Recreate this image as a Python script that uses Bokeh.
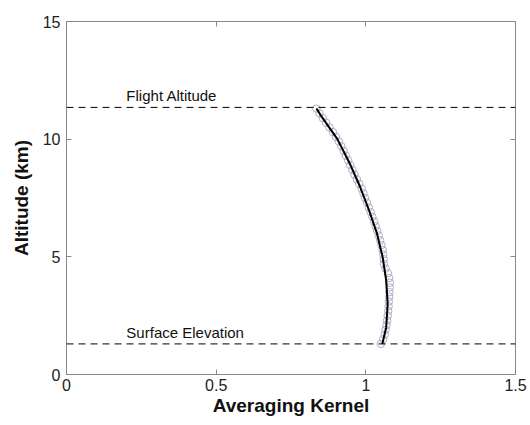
from bokeh.plotting import figure
from bokeh.models import Range1d, LinearAxis, FixedTicker, Span, Label
from bokeh.embed import file_html
from bokeh.resources import INLINE

# Smooth fit (line)
line_alt = [1.3, 2.0, 3.0, 4.0, 5.0, 6.0, 7.0, 8.0, 9.0, 10.0, 11.0, 11.3]
line_ak = [1.055, 1.068, 1.073, 1.068, 1.056, 1.037, 1.010, 0.980, 0.945, 0.905, 0.850, 0.835]

# Individual retrieval points (circles)
pt_alt = [1.3, 1.5, 1.7, 1.9, 2.1, 2.3, 2.5, 2.7, 2.9, 3.1, 3.3, 3.5, 3.7, 3.9, 4.1, 4.3,
          4.5, 4.7, 4.9, 5.1, 5.3, 5.5, 5.7, 5.9, 6.1, 6.3, 6.5, 6.7, 6.9, 7.1, 7.3, 7.5,
          7.7, 7.9, 8.1, 8.3, 8.5, 8.7, 8.9, 9.1, 9.3, 9.5, 9.7, 9.9, 10.1, 10.3, 10.5,
          10.7, 10.9, 11.1, 11.3]
pt_ak = [1.050, 1.058, 1.063, 1.066, 1.069, 1.071, 1.073, 1.075, 1.076, 1.077, 1.078, 1.079,
         1.080, 1.080, 1.078, 1.074, 1.066, 1.060, 1.060, 1.058, 1.056, 1.052, 1.048, 1.043,
         1.038, 1.033, 1.028, 1.022, 1.016, 1.010, 1.004, 0.997, 0.992, 0.986, 0.978, 0.970,
         0.962, 0.955, 0.948, 0.941, 0.933, 0.926, 0.918, 0.910, 0.900, 0.890, 0.879, 0.867,
         0.856, 0.845, 0.835]

flight_alt = 11.35
surface_alt = 1.3
x_ticks = [0, 0.5, 1, 1.5]
y_ticks = [0, 5, 10, 15]

FONT = "Liberation Sans"

p = figure(width=530, height=425, output_backend="svg", toolbar_location=None,
           x_range=Range1d(0, 1.5), y_range=Range1d(0, 15),
           min_border_left=66, min_border_right=15, min_border_top=21, min_border_bottom=51)
p.xgrid.visible = False
p.ygrid.visible = False
p.outline_line_color = "#888888"
p.outline_line_width = 1
p.background_fill_color = "white"
p.border_fill_color = "white"

for ax in (p.xaxis[0], p.yaxis[0]):
    ax.axis_line_color = "#888888"
    ax.major_tick_line_color = "#888888"
    ax.major_tick_in = 5
    ax.major_tick_out = 0
    ax.minor_tick_line_color = None
    ax.major_label_text_font = FONT
    ax.major_label_text_font_size = "16px"
    ax.major_label_text_color = "#222222"
    ax.axis_label_text_font = FONT
    ax.axis_label_text_font_size = "19px"
    ax.axis_label_text_font_style = "bold"
    ax.axis_label_text_color = "#111111"

p.xaxis[0].ticker = FixedTicker(ticks=x_ticks)
p.yaxis[0].ticker = FixedTicker(ticks=y_ticks)
p.xaxis[0].axis_label = "Averaging Kernel"
p.yaxis[0].axis_label = "Altitude (km)"
p.xaxis[0].major_label_standoff = 4
p.yaxis[0].major_label_standoff = 6
p.xaxis[0].axis_label_standoff = 1
p.yaxis[0].axis_label_standoff = 8

top = LinearAxis(ticker=FixedTicker(ticks=x_ticks), axis_line_color="#888888",
                 major_tick_line_color="#888888", major_tick_in=5, major_tick_out=0,
                 minor_tick_line_color=None, major_label_text_color=None,
                 major_label_overrides={t: "" for t in x_ticks}, major_label_standoff=0)
right = LinearAxis(ticker=FixedTicker(ticks=y_ticks), axis_line_color="#888888",
                   major_tick_line_color="#888888", major_tick_in=5, major_tick_out=0,
                   minor_tick_line_color=None, major_label_text_color=None,
                   major_label_overrides={t: "" for t in y_ticks}, major_label_standoff=0)
p.add_layout(top, "above")
p.add_layout(right, "right")

for yv in (flight_alt, surface_alt):
    p.add_layout(Span(location=yv, dimension="width", line_color="black",
                      line_dash="7 5", line_width=1))

p.scatter(pt_ak, pt_alt, marker="circle", size=7.5, fill_color=None,
          line_color="#a8a5bf", line_width=1, line_alpha=0.9)
p.line(line_ak, line_alt, line_color="black", line_width=2)

p.add_layout(Label(x=0.2, y=flight_alt, text="Flight Altitude", x_offset=0, y_offset=3,
                   text_font=FONT, text_font_size="15px", text_color="#111111"))
p.add_layout(Label(x=0.2, y=surface_alt, text="Surface Elevation", x_offset=0, y_offset=3,
                   text_font=FONT, text_font_size="15px", text_color="#111111"))

open("out.html", "w").write(file_html(p, INLINE))
